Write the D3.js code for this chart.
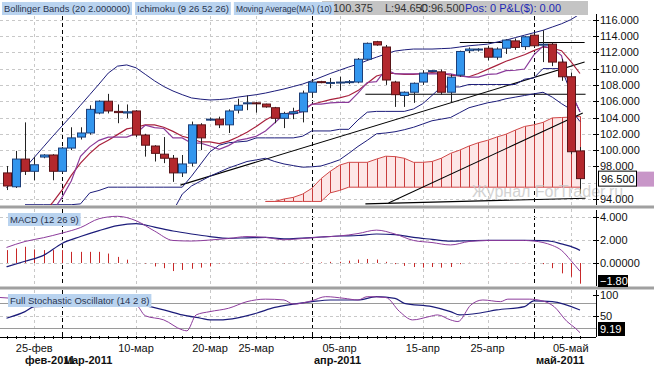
<!DOCTYPE html>
<html>
<head>
<meta charset="utf-8">
<script src="https://cdn.jsdelivr.net/npm/d3@7/dist/d3.min.js"></script>
<style>
body { margin: 0; background: #fff; }
text { font-family: "Liberation Sans", Arial, sans-serif; }
</style>
</head>
<body>
<div id="chart"></div>
<script>
// trading bars (incl. sunday sessions)
var dates = ["02-22","02-23","02-24","02-25","02-27","02-28","03-01","03-02","03-03","03-04",
  "03-06","03-07","03-08","03-09","03-10","03-11","03-13","03-14","03-15","03-16",
  "03-17","03-18","03-20","03-21","03-22","03-23","03-24","03-25","03-27","03-28",
  "03-29","03-30","03-31","04-01","04-03","04-04","04-05","04-06","04-07","04-08",
  "04-10","04-11","04-12","04-13","04-14","04-15","04-17","04-18","04-19","04-20",
  "04-21","04-24","04-25","04-26","04-27","04-28","04-29","05-01","05-02","05-03",
  "05-04","05-05","05-06"];
var open  = [97.2,95.5,98.9,97.4,99.15,99.4,97.4,100.25,101.6,102.1,104.55,106.0,104.75,104.55,104.8,101.85,100.5,99.5,99.0,97.2,
  98.4,103.1,103.7,103.8,103.1,104.9,105.7,105.8,105.65,105.2,103.9,104.5,104.7,107.1,108.4,108.3,108.3,108.3,108.35,111.15,
  113.3,112.65,108.35,106.7,107.1,108.35,109.7,109.6,107.1,109.2,112.2,112.3,112.5,111.4,112.5,113.4,112.7,114.1,112.9,113.0,
  110.8,109.0,99.9];
var high  = [98.05,99.9,103.4,99.15,99.5,99.5,100.4,102.8,102.8,105.5,106.1,106.9,105.6,105.6,104.9,102.0,100.6,101.6,99.4,99.4,
  103.5,103.3,104.0,104.1,105.0,106.3,106.7,105.9,105.7,105.3,104.7,105.2,107.3,108.6,108.5,108.85,109.0,108.6,111.3,113.2,
  113.4,112.9,108.5,107.2,108.3,109.8,109.8,109.9,109.3,112.2,112.6,112.5,112.8,112.6,113.6,113.7,114.0,114.3,114.7,113.2,
  111.2,109.5,100.375];
var low   = [95.1,95.35,96.95,96.3,99.0,96.3,97.2,100.0,101.3,101.9,104.4,104.5,103.3,103.9,101.6,99.2,98.6,98.4,96.1,96.7,
  98.0,100.0,103.6,102.7,102.1,104.5,104.9,104.6,105.2,103.3,102.7,103.8,103.4,106.4,108.2,107.6,107.3,108.1,108.2,111.0,
  112.8,108.0,105.3,105.3,105.8,108.0,109.6,106.8,105.9,109.0,111.9,112.1,111.0,111.1,111.8,112.3,112.3,112.6,110.8,110.3,
  108.5,99.5,94.65];
var close = [95.6,98.9,97.4,98.2,99.4,97.4,100.25,101.5,102.1,105.0,106.0,104.8,104.6,104.7,101.85,100.6,99.6,99.0,97.2,98.3,
  103.1,101.5,103.8,103.1,104.8,105.5,105.8,105.75,105.3,103.9,104.5,104.7,107.0,108.35,108.3,108.3,108.35,108.4,111.15,113.1,
  112.9,108.6,106.8,107.1,108.2,109.45,109.75,107.1,108.95,112.1,112.4,112.4,111.4,112.4,113.5,112.6,113.9,112.8,113.0,110.8,
  109.0,99.8,96.5];

// indicator values, one per bar (null = not visible)
var bbUpper = [95.35,96.6,97.8,99.1,100.4,101.7,102.95,104.2,105.5,106.8,108.1,109.45,110.3,110.45,110.1,109.3,108.5,107.8,107.25,106.8,
  106.4,106.25,106.15,106.2,106.3,106.5,106.65,106.8,107.0,107.25,107.5,107.8,108.1,108.5,108.95,109.4,109.8,110.2,110.55,111.0,
  111.4,111.8,112.15,112.3,112.4,112.4,112.4,112.45,112.5,112.65,112.8,112.9,113.0,113.25,113.5,113.8,114.1,114.4,114.7,115.1,
  115.5,116.0,116.7];
var bbLower = [null,null,null,null,null,null,null,null,null,null,null,null,null,null,null,null,null,null,92.5,94.6,
  95.6,96.2,96.8,97.3,97.8,98.2,98.6,98.8,99.0,98.6,98.3,98.1,97.9,97.95,98.05,98.4,98.8,99.6,100.45,101.2,
  102.0,102.1,102.25,102.5,102.8,103.2,103.6,103.8,104.0,104.6,105.2,105.5,105.8,106.0,106.3,106.5,106.7,106.9,107.1,106.5,
  105.7,105.0,103.5];
var tenkan = [null,92.0,92.5,92.5,92.5,92.5,94.2,96.2,99.25,100.4,101.2,101.6,101.6,101.6,102.05,103.05,102.75,102.65,101.5,101.5,
  100.85,100.85,100.5,100.1,100.55,101.2,101.4,101.7,102.35,103.35,104.4,104.4,104.7,105.65,105.65,105.8,105.85,105.85,107.0,108.3,
  108.4,109.9,109.35,109.35,109.35,109.35,109.35,109.35,109.35,109.1,108.95,108.95,109.3,109.35,109.75,109.8,109.95,111.65,112.75,112.5,
  111.6,107.1,104.7];
var kijun = [null,null,93.3,93.3,93.3,93.3,93.3,93.3,93.4,94.75,95.05,95.45,95.45,95.45,95.45,95.45,95.45,95.45,95.45,95.45,
  96.8,98.3,99.8,100.6,100.9,101.0,101.1,101.5,101.5,101.5,101.5,101.5,101.7,102.35,102.35,102.35,102.55,102.55,103.7,104.65,
  104.75,104.75,104.75,104.75,105.05,105.7,106.7,107.75,107.75,107.75,108.05,108.05,108.05,108.05,108.05,108.05,108.7,108.85,110.0,110.0,
  110.0,107.1,104.7];
var ma10 = [null,null,null,null,92.2,93.6,95.1,96.9,98.4,99.6,100.6,101.2,101.9,102.6,102.8,103.1,103.1,102.8,102.3,101.7,
  101.4,101.0,101.0,100.8,101.1,101.6,102.2,102.9,103.7,104.3,104.4,104.7,105.0,105.6,105.9,106.2,106.4,106.7,107.3,108.2,
  109.1,109.4,109.4,109.3,109.3,109.4,109.5,109.4,109.2,109.1,109.0,109.4,109.9,110.4,110.9,111.3,111.7,112.2,112.65,112.5,
  112.2,110.9,109.4];
var senkouA = [null,null,null,null,null,null,null,null,null,null,null,null,null,null,null,null,null,null,null,null,
  null,null,null,null,null,null,null,null,93.7,93.7,94.0,94.2,94.6,95.3,96.5,97.4,98.15,98.5,98.5,98.5,
  98.9,99.25,99.2,99.0,98.5,98.5,98.6,99.0,99.6,100.0,100.5,100.9,101.2,101.6,101.95,102.45,102.9,103.1,103.4,103.95,
  104.0,104.05,104.15];
var senkouB = [null,null,null,null,null,null,null,null,null,null,null,null,null,null,null,null,null,null,null,null,
  null,null,null,null,null,null,null,null,93.7,93.7,93.7,93.7,93.7,93.7,93.7,94.75,95.05,95.45,95.45,95.45,
  95.45,95.45,95.45,95.45,95.45,95.45,95.45,95.45,95.45,95.45,95.45,95.45,95.45,95.45,95.45,95.45,95.45,95.45,95.45,95.45,
  95.45,95.45,95.45];
// hand drawn lines: [bar, price] pairs
var drawn = [
  [[18.8,95.7],[62.5,110.8]],
  [[41.3,93.5],[62.3,104.55]],
  [[49,113.2],[62.5,113.2]],
  [[38.8,106.85],[62.6,106.85]],
  [[38.8,93.4],[62.6,94.1]]
];

var macd = [[0,1.35],[2,1.87],[4,2.2],[6,2.6],[8,3.08],[10,3.85],[12,4.06],[14,3.68],[16,2.78],[18,1.96],[20,1.91],[22,2.0],
  [24,2.13],[26,2.3],[28,2.23],[30,2.02],[32,2.13],[34,2.26],[36,2.35],[38,2.56],[40,2.86],[42,2.52],[44,1.96],[46,1.78],
  [48,1.57],[50,1.87],[52,1.96],[54,1.96],[56,1.96],[58,1.78],[59,1.53],[60,1.1],[61,0.23],[62,-0.72]];
var signal = [[0,-0.33],[2,0.15],[4,0.66],[6,1.7],[8,2.3],[10,2.82],[12,3.25],[14,3.42],[16,3.12],[18,2.78],[20,2.52],[22,2.3],
  [24,2.15],[26,2.19],[28,2.23],[30,2.1],[32,2.17],[34,2.26],[36,2.35],[38,2.39],[40,2.52],[42,2.47],[44,2.22],[46,2.06],
  [48,1.9],[50,1.93],[52,1.96],[54,1.96],[56,1.96],[58,1.94],[59,1.87],[60,1.66],[61,1.44],[62,1.1]];
var hist = [1.12,1.27,1.41,1.18,1.12,1.12,1.12,0.97,0.97,0.97,0.97,0.82,0.53,0.29,0.02,-0.05,-0.3,-0.45,-0.7,-0.6,
  -0.5,-0.4,-0.3,-0.05,0.02,-0.02,0.02,0.03,-0.02,0.02,-0.03,0.02,0.03,0.02,0.05,0.1,0.1,0.2,0.3,0.35,
  0.3,0.1,-0.1,-0.25,-0.35,-0.4,-0.35,-0.4,-0.35,-0.1,0.02,-0.02,0.03,-0.02,0.02,-0.03,0.02,0.0,-0.1,-0.45,
  -0.9,-1.2,-1.8];

var stochD = [[0,44],[2,60],[3,72],[14,76],[17,64],[19,52],[21,44],[22,40],[23,40],[25,45],[27,56],[29,70],[31,78],[33,84],
  [35,88],[38,88],[40,96],[42,92],[43,80],[46,72],[48,60],[49,52],[51,56],[53,64],[56,72],[57,86],[59,84],[62,64]];
var stochK = [[-0.7,94],[2,90],[6,86],[10,84],[14,76],[15,50],[17,40],[19,16],[19.5,13.6],[20.5,52],[22,60],[24,68],[26,84],[28,90],[30,88],[31,78],[33,86],
  [34.5,96],[36.5,92],[38,88],[39,96],[41,94],[42.5,60],[43.9,40],[45.7,48],[46.6,52],[48,40],[48.8,36],[50.2,76],[51.5,88],
  [53.4,84],[54.2,90],[56.5,90],[57.9,86],[59.2,72],[60.6,36],[61.5,20],[62,9.19]];

var dayTicks = ["02-25","03-10","03-20","03-25","04-05","04-15","04-25","05-05"];
var dayLabels = ["25-фев","10-мар","20-мар","25-мар","05-апр","15-апр","25-апр","05-май"];
var monthStarts = ["03-01","04-01","05-01"];
var monthLabels = ["фев-2011","мар-2011","апр-2011","май-2011"];
var priceGrid = [116,114,112,110,108,106,104,102,100,98,96,94];
var priceTicks = [116,114,112,110,108,106,104,102,100,98,94];
var macdTicks = [4,2,0];
var macdTickLabels = ["4.000","2.000","0.00000"];
var stochTicks = [100,50];

var W = 654, H = 367, axisX = 596;

var svg = d3.select("#chart").append("svg")
    .attr("width", W).attr("height", H)
    .style("display", "block");

var x = d3.scalePoint().domain(dates).range([6.5, 580]);
var step = x.step();
var xi = function (i) { return x(dates[0]) + i * step; };

var yP = d3.scaleLinear().domain([94, 114]).range([199, 36]);
var yM = d3.scaleLinear().domain([0, 4]).range([263, 217]);
var yS = d3.scaleLinear().domain([0, 100]).range([336.5, 295]);

var panels = [
    { id: "p", top: 16, bottom: 205 },
    { id: "m", top: 209, bottom: 286 },
    { id: "s", top: 290, bottom: 337 }
];
var defs = svg.append("defs");
panels.forEach(function (p) {
    defs.append("clipPath").attr("id", "clip-" + p.id)
        .append("rect").attr("x", 0).attr("y", p.top).attr("width", axisX).attr("height", p.bottom - p.top);
});

// vertical grid + month separators in all panels
panels.forEach(function (p) {
    var g = svg.append("g");
    g.selectAll(".vg").data(dayTicks).enter().append("line")
        .attr("x1", function (d) { return Math.round(x(d)) + 0.5; }).attr("x2", function (d) { return Math.round(x(d)) + 0.5; })
        .attr("y1", p.top).attr("y2", p.bottom)
        .attr("stroke", "#c8c8c8").attr("stroke-dasharray", "3,3");
    g.selectAll(".ms").data(monthStarts).enter().append("line")
        .attr("x1", function (d) { return Math.round(x(d)) + 0.5; }).attr("x2", function (d) { return Math.round(x(d)) + 0.5; })
        .attr("y1", p.top).attr("y2", p.bottom)
        .attr("stroke", "#000").attr("stroke-dasharray", "4,3");
});

// horizontal grid
function hgrid(scale, vals) {
    svg.append("g").selectAll("line").data(vals).enter().append("line")
        .attr("x1", 0).attr("x2", axisX)
        .attr("y1", function (d) { return Math.round(scale(d)) + 0.5; })
        .attr("y2", function (d) { return Math.round(scale(d)) + 0.5; })
        .attr("stroke", "#c8c8c8").attr("stroke-dasharray", "3,3");
}
hgrid(yP, priceGrid);
hgrid(yM, macdTicks);
hgrid(yS, [50]);
[80, 20].forEach(function (v) {
    svg.append("line").attr("x1", 0).attr("x2", axisX).attr("y1", Math.round(yS(v)) + 0.5).attr("y2", Math.round(yS(v)) + 0.5)
        .attr("stroke", "#9a9a9a");
});

// ---------- price panel ----------
var gp = svg.append("g").attr("clip-path", "url(#clip-p)");
var def = function (d) { return d != null; };

// ichimoku cloud
var cloud = senkouA.map(function (d, i) { return { i: i, a: d, b: senkouB[i] }; })
    .filter(function (d) { return d.a != null; });
gp.append("path").datum(cloud)
    .attr("d", d3.area().x(function (d) { return xi(d.i); }).y0(function (d) { return yP(d.b); }).y1(function (d) { return yP(d.a); }))
    .attr("fill", "#fde6e6");
gp.selectAll(".hatch").data(cloud).enter().append("line")
    .attr("x1", function (d) { return Math.round(xi(d.i)) + 0.5; }).attr("x2", function (d) { return Math.round(xi(d.i)) + 0.5; })
    .attr("y1", function (d) { return yP(d.b); }).attr("y2", function (d) { return yP(d.a); })
    .attr("stroke", "#c83c3c");

var lineBar = d3.line().defined(def).x(function (d, i) { return xi(i); }).y(function (d) { return yP(d); });
function series(arr, color, w) {
    gp.append("path").datum(arr).attr("d", lineBar).attr("fill", "none")
        .attr("stroke", color).attr("stroke-width", w || 1);
}
series(senkouA, "#d04848");
series(senkouB, "#d04848");

// drawn lines
var lineP = d3.line().x(function (d) { return xi(d[0]); }).y(function (d) { return yP(d[1]); });
gp.selectAll(".dl").data(drawn).enter().append("path")
    .attr("d", lineP).attr("fill", "none").attr("stroke", "#000").attr("stroke-width", 1.1);

series(bbUpper, "#1c1c7a");
series(bbLower, "#1c1c7a");
series(kijun, "#1c1c7a");
series(ma10, "#a8203c", 1.2);
series(tenkan, "#8a3a9a", 1.2);

// candles
var bw = 8;
var candles = gp.selectAll(".c").data(dates).enter().append("g");
candles.append("line")
    .attr("x1", function (d) { return Math.round(x(d)) + 0.5; }).attr("x2", function (d) { return Math.round(x(d)) + 0.5; })
    .attr("y1", function (d, i) { return yP(high[i]); }).attr("y2", function (d, i) { return yP(low[i]); })
    .attr("stroke", "#222");
candles.append("rect")
    .attr("x", function (d) { return Math.round(x(d)) - bw / 2 + 0.5; })
    .attr("y", function (d, i) { return yP(Math.max(open[i], close[i])); })
    .attr("width", bw)
    .attr("height", function (d, i) { return Math.max(1, Math.abs(yP(open[i]) - yP(close[i]))); })
    .attr("fill", function (d, i) { return close[i] >= open[i] ? "#3396ee" : "#b3282d"; })
    .attr("stroke", function (d, i) { return close[i] >= open[i] ? "#1d3f78" : "#5a1418"; });

// watermark
svg.append("text").attr("x", 472).attr("y", 197).attr("font-size", 16).attr("fill", "#c8c8c8")
    .attr("opacity", 0.8).text("Журнал ForTrader.ru");

// ---------- MACD panel ----------
var gm = svg.append("g").attr("clip-path", "url(#clip-m)");
gm.selectAll(".h").data(hist).enter().append("line")
    .attr("x1", function (d, i) { return Math.round(xi(i)) + 0.5; }).attr("x2", function (d, i) { return Math.round(xi(i)) + 0.5; })
    .attr("y1", yM(0)).attr("y2", function (d) { return yM(d); })
    .attr("stroke", "#c82828");
var lineM = d3.line().curve(d3.curveMonotoneX).x(function (d) { return xi(d[0]); }).y(function (d) { return yM(d[1]); });
gm.append("path").datum(signal).attr("d", lineM).attr("fill", "none").attr("stroke", "#1c1c7a").attr("stroke-width", 1.2);
gm.append("path").datum(macd).attr("d", lineM).attr("fill", "none").attr("stroke", "#8c3c9c");

// ---------- Stochastic panel ----------
var gs = svg.append("g").attr("clip-path", "url(#clip-s)");
var lineS = d3.line().curve(d3.curveMonotoneX).x(function (d) { return xi(d[0]); }).y(function (d) { return yS(d[1]); });
gs.append("path").datum(stochD).attr("d", lineS).attr("fill", "none").attr("stroke", "#1c1c7a").attr("stroke-width", 1.2);
gs.append("path").datum(stochK).attr("d", lineS).attr("fill", "none").attr("stroke", "#8c3c9c");

// ---------- separators ----------
[207, 288].forEach(function (y) {
    svg.append("rect").attr("x", 0).attr("y", y - 1.5).attr("width", W).attr("height", 3).attr("fill", "#a0a0a0");
});

// ---------- right axes ----------
function rightAxis(scale, ticks, fmt, top, bottom) {
    var g = svg.append("g");
    g.append("line").attr("x1", axisX + 0.5).attr("x2", axisX + 0.5).attr("y1", top).attr("y2", bottom).attr("stroke", "#000");
    var t = g.selectAll(".t").data(ticks).enter().append("g")
        .attr("transform", function (d) { return "translate(0," + Math.round(scale(d)) + ")"; });
    t.append("line").attr("x1", axisX - 3).attr("x2", axisX + 3).attr("y1", 0.5).attr("y2", 0.5).attr("stroke", "#000");
    t.append("text").attr("x", axisX + 4).attr("y", 4).attr("font-size", 11).attr("fill", "#111").text(fmt);
}
rightAxis(yP, priceTicks, function (d) { return d3.format(".3f")(d); }, 14, 205);
rightAxis(yM, macdTicks, function (d, i) { return macdTickLabels[i]; }, 210, 286);
rightAxis(yS, stochTicks, function (d) { return d; }, 290, 337);

// last value boxes
var lastP = close[close.length - 1];
svg.append("rect").attr("x", 636).attr("y", yP(lastP) - 7).attr("width", 18).attr("height", 15).attr("fill", "#c896c8");
svg.append("rect").attr("x", 598.5).attr("y", yP(lastP) - 7.5).attr("width", 38).attr("height", 15)
    .attr("fill", "#fff").attr("stroke", "#000");
svg.append("text").attr("x", 601).attr("y", yP(lastP) + 4).attr("font-size", 11).text(d3.format(".3f")(lastP));

var lastH = hist[hist.length - 1];
svg.append("rect").attr("x", 598).attr("y", 275).attr("width", 30).attr("height", 12).attr("fill", "#000");
svg.append("text").attr("x", 600).attr("y", 285).attr("font-size", 11).attr("fill", "#fff").text(d3.format(".2f")(lastH));
var lastK = stochK[stochK.length - 1][1];
svg.append("rect").attr("x", 598).attr("y", 322).attr("width", 27).attr("height", 14).attr("fill", "#000");
svg.append("text").attr("x", 600).attr("y", 333).attr("font-size", 11).attr("fill", "#fff").text(lastK);

// ---------- x axis ----------
var gx = svg.append("g");
gx.append("line").attr("x1", 0).attr("x2", axisX).attr("y1", 337.5).attr("y2", 337.5).attr("stroke", "#000");
gx.selectAll(".bt").data(dates).enter().append("line")
    .attr("x1", function (d) { return Math.round(x(d)) + 0.5; }).attr("x2", function (d) { return Math.round(x(d)) + 0.5; })
    .attr("y1", 336).attr("y2", 339).attr("stroke", "#000");
gx.selectAll(".dl").data(dayTicks).enter().append("text")
    .attr("x", function (d) { return x(d); }).attr("y", 352).attr("text-anchor", "middle")
    .attr("font-size", 11).attr("fill", "#111")
    .text(function (d, i) { return dayLabels[i]; });
var monthX = [25].concat(monthStarts.map(function (d) { return Math.round(x(d)) + 2; }));
gx.selectAll(".ml").data(monthLabels).enter().append("text")
    .attr("x", function (d, i) { return monthX[i]; }).attr("y", 364)
    .attr("font-size", 11).attr("font-weight", "bold").attr("fill", "#111")
    .text(function (d) { return d; });

// ---------- legends ----------
function legend(x0, y0, txt, len) {
    var t = svg.append("text").attr("x", x0 + 2).attr("y", y0 + 10).attr("font-size", 9.5).attr("fill", "#2a3550").text(txt);
    if (len) t.attr("textLength", len).attr("lengthAdjust", "spacingAndGlyphs");
    var w = len || t.node().getComputedTextLength();
    svg.insert("rect", function () { return t.node(); })
        .attr("x", x0).attr("y", y0).attr("width", w + 4).attr("height", 13).attr("fill", "#b9d3ef");
    return x0 + w + 4;
}
svg.append("rect").attr("x", 322).attr("y", 1).attr("width", 266).attr("height", 14).attr("fill", "#c4c4c4");
svg.append("text").attr("x", 322).attr("y", 12).attr("font-size", 11).attr("fill", "#333").text("H:100.375");
svg.append("text").attr("x", 385).attr("y", 12).attr("font-size", 11).attr("fill", "#333").text("L:94.650");
svg.append("text").attr("x", 420).attr("y", 12).attr("font-size", 11).attr("fill", "#333").text("C:96.500");
svg.append("text").attr("x", 465).attr("y", 12).attr("font-size", 11).attr("fill", "#1c28b4").text("Pos: 0 P&L($): 0.00");
var lx = legend(2, 2, "Bollinger Bands (20 2.000000)", 126);
lx = legend(lx + 3, 2, "Ichimoku (9 26 52 26)");
legend(lx + 3, 2, "Moving Average(MA) (10)", 96);
legend(8, 213, "MACD (12 26 9)");
legend(8, 294, "Full Stochastic Oscillator (14 2 8)");
</script>
</body>
</html>
